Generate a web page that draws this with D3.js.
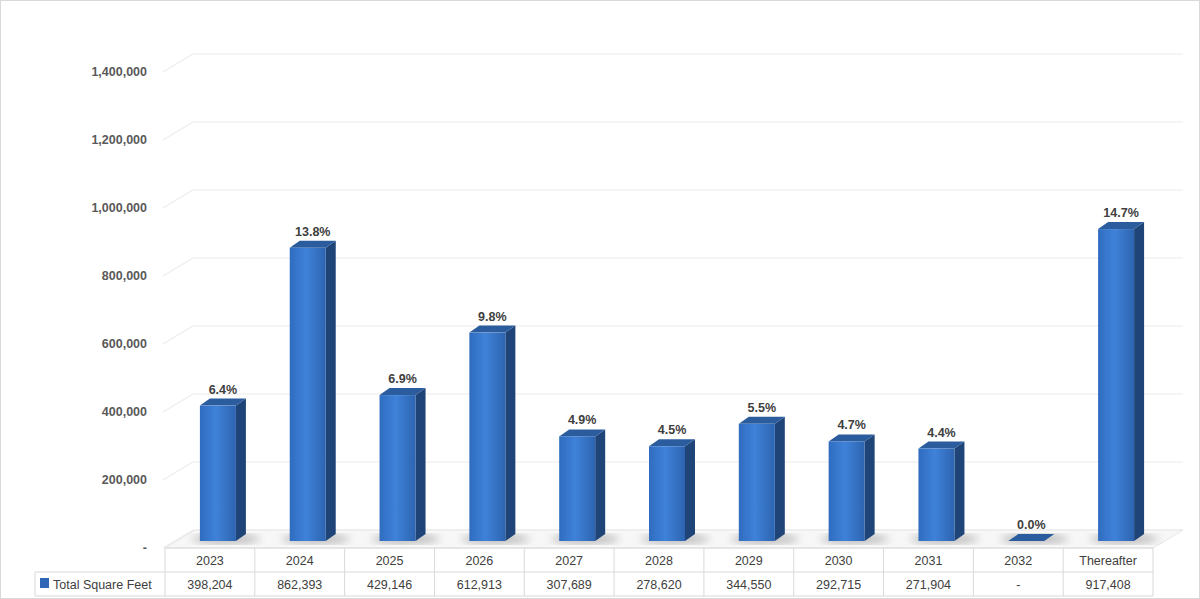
<!DOCTYPE html>
<html>
<head>
<meta charset="utf-8">
<script src="https://cdn.jsdelivr.net/npm/d3@7"></script>
<style>
body { margin: 0; background: #fff; }
svg { font-family: "Liberation Sans", Arial, sans-serif; }
</style>
</head>
<body>
<svg id="chart" width="1200" height="599"></svg>
<script>
// Lease expirations by year
const categories = ['2023', '2024', '2025', '2026', '2027', '2028', '2029', '2030', '2031', '2032', 'Thereafter'];
const squareFeet = [398204, 862393, 429146, 612913, 307689, 278620, 344550, 292715, 271904, 0, 917408];
const pctLabels = ['6.4%', '13.8%', '6.9%', '9.8%', '4.9%', '4.5%', '5.5%', '4.7%', '4.4%', '0.0%', '14.7%'];
const tableLabels = ['398,204', '862,393', '429,146', '612,913', '307,689', '278,620', '344,550', '292,715', '271,904', '-', '917,408'];
const yTicks = [0, 200000, 400000, 600000, 800000, 1000000, 1200000, 1400000];

const svg = d3.select('#chart');
const W = 1200, H = 599;
const left = 165, right = 1153;
const depthX = 30, depthY = -18;   // back wall offset
const barDx = 10, barDy = -7;      // bar depth

svg.append('rect').attr('x', 0.5).attr('y', 0.5).attr('width', W - 1).attr('height', H - 1)
    .attr('fill', '#fff').attr('stroke', '#d9d9d9');

const x = d3.scaleBand().domain(categories).range([left, right]);
const yAxis = d3.scaleLinear().domain([0, 1400000]).range([548, 72]);
const yBar = d3.scaleLinear().domain([0, 1400000]).range([541, 65]);

// gridlines on back wall + diagonal
const grid = svg.append('g');
yTicks.forEach(t => {
    const y0 = yAxis(t);
    grid.append('polyline')
        .attr('points', `${left - 2},${y0} ${left - 2 + depthX},${y0 + depthY} ${right + depthX},${y0 + depthY}`)
        .attr('fill', 'none').attr('stroke', '#ececec').attr('stroke-width', 1.2);
});
// floor
svg.append('polygon')
    .attr('points', `${left},548 ${left + depthX},530 ${right + depthX},530 ${right},548`)
    .attr('fill', '#f7f7f7').attr('stroke', '#e6e6e6');

// y labels
svg.append('g').selectAll('text').data(yTicks).join('text')
    .attr('x', 147).attr('y', d => yAxis(d) + 4).attr('text-anchor', 'end')
    .attr('font-size', 12.5).attr('font-weight', 'bold').attr('fill', '#595959')
    .text(d => d === 0 ? '-' : d3.format(',')(d));

const defs = svg.append('defs');
const grad = defs.append('linearGradient').attr('id', 'front').attr('x1', 0).attr('x2', 1);
grad.append('stop').attr('offset', 0).attr('stop-color', '#2f6cc0');
grad.append('stop').attr('offset', 0.45).attr('stop-color', '#3f82d9');
grad.append('stop').attr('offset', 1).attr('stop-color', '#2d64b0');
defs.append('filter').attr('id', 'blur').append('feGaussianBlur').attr('stdDeviation', 4);

const bars = svg.append('g').selectAll('g').data(categories).join('g');
bars.each(function (c, i) {
    const g = d3.select(this);
    const bx = x(c) + x.bandwidth() / 2 - 10, bw = 36;
    const yb = yBar(0), yt = yBar(squareFeet[i]);
    g.append('ellipse').attr('cx', bx + bw / 2 + 8).attr('cy', yb - 2)
        .attr('rx', 34).attr('ry', 5).attr('fill', '#888').attr('opacity', 0.55).attr('filter', 'url(#blur)');
    g.append('polygon')
        .attr('points', `${bx + bw},${yt} ${bx + bw + barDx},${yt + barDy} ${bx + bw + barDx},${yb + barDy} ${bx + bw},${yb}`)
        .attr('fill', '#1f4478');
    g.append('polygon')
        .attr('points', `${bx},${yt} ${bx + barDx},${yt + barDy} ${bx + bw + barDx},${yt + barDy} ${bx + bw},${yt}`)
        .attr('fill', '#2a5c9e');
    if (yb - yt > 0) g.append('rect').attr('x', bx).attr('y', yt).attr('width', bw).attr('height', yb - yt).attr('fill', 'url(#front)');
    g.append('text').attr('x', bx + bw / 2 + 5).attr('y', yt - 12).attr('text-anchor', 'middle')
        .attr('font-size', 12.5).attr('font-weight', 'bold').attr('fill', '#404040').text(pctLabels[i]);
});

// data table
const tbl = svg.append('g').attr('font-size', 12.5).attr('fill', '#404040');
const line = (x1, y1, x2, y2) => tbl.append('line').attr('x1', x1).attr('y1', y1).attr('x2', x2).attr('y2', y2)
    .attr('stroke', '#d9d9d9');
line(left, 548, left, 596);
categories.forEach(c => line(x(c) + x.bandwidth(), 548, x(c) + x.bandwidth(), 596));
line(left, 548, right, 548);
line(35, 572, right, 572);
line(35, 596, right, 596);
line(35, 572, 35, 596);
tbl.selectAll('text.cat').data(categories).join('text').attr('class', 'cat')
    .attr('x', d => x(d) + x.bandwidth() / 2).attr('y', 565).attr('text-anchor', 'middle').attr('fill', '#404040').text(d => d);
tbl.selectAll('text.val').data(tableLabels).join('text').attr('class', 'val')
    .attr('x', (d, i) => x(categories[i]) + x.bandwidth() / 2).attr('y', 589).attr('text-anchor', 'middle').attr('fill', '#404040').text(d => d);
tbl.append('rect').attr('x', 40).attr('y', 578).attr('width', 9).attr('height', 10).attr('fill', '#2f66b5');
tbl.append('text').attr('x', 53).attr('y', 589).attr('fill', '#404040').text('Total Square Feet');
</script>
</body>
</html>
